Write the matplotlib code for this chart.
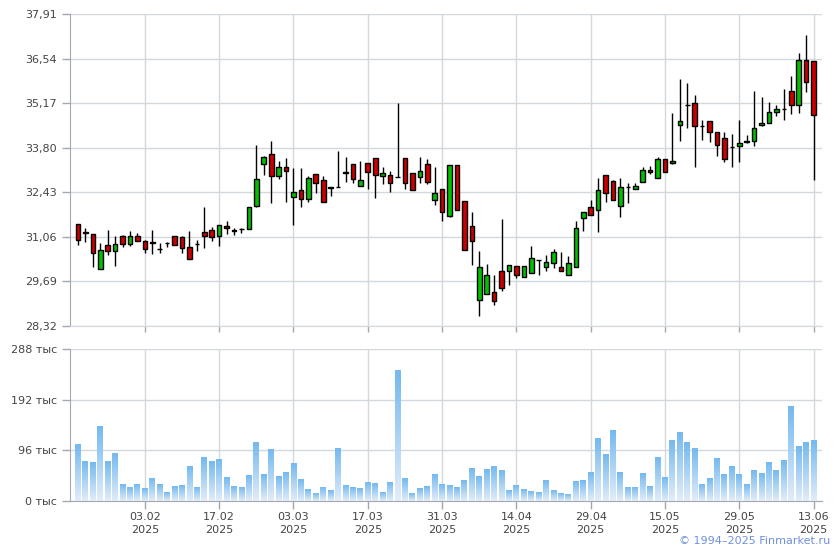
import numpy as np
import matplotlib
matplotlib.use("Agg")
import matplotlib.pyplot as plt
from matplotlib.colors import LinearSegmentedColormap

# daily candles (index = trading day), prices in RUB
opens = [31.44, 31.22, 31.15, 30.08, 30.82, 30.62, 31.09, 30.85, 31.09, 30.92,
         30.89, 30.69, 30.88, 31.09, 31.06, 30.75, 30.85, 31.21, 31.27, 31.08,
         31.40, 31.27, 31.30, 31.29, 32.00, 33.29, 33.60, 32.92, 33.20, 32.30,
         32.50, 32.22, 32.99, 32.80, 32.58, 32.60, 33.05, 33.29, 32.62, 33.32,
         33.48, 32.92, 32.97, 32.90, 33.48, 33.01, 32.90, 33.29, 32.19, 32.53,
         31.70, 33.27, 32.17, 31.40, 29.12, 29.31, 29.35, 30.02, 30.00, 30.17,
         29.83, 29.95, 30.36, 30.14, 30.26, 30.14, 29.89, 30.14, 31.64, 31.98,
         31.89, 32.97, 32.78, 32.01, 32.60, 32.54, 32.75, 33.12, 32.87, 33.46,
         33.34, 34.50, 35.12, 35.18, 34.47, 34.63, 34.29, 34.10, 33.83, 33.86,
         34.00, 34.01, 34.49, 34.56, 34.90, 35.00, 35.53, 35.12, 36.50, 36.47]
highs = [31.47, 31.34, 31.16, 30.88, 31.27, 31.09, 31.13, 31.24, 31.18, 30.95,
         31.27, 30.87, 30.90, 31.09, 31.09, 31.24, 30.95, 31.98, 31.37, 31.43,
         31.54, 31.34, 31.34, 31.98, 33.89, 33.55, 34.00, 33.40, 33.48, 33.17,
         33.17, 32.94, 32.99, 32.94, 32.58, 33.70, 33.52, 33.29, 33.40, 33.32,
         33.48, 33.20, 33.07, 35.16, 33.48, 33.01, 33.50, 33.45, 33.20, 32.53,
         33.27, 33.27, 32.17, 31.81, 30.64, 30.23, 29.89, 31.62, 30.21, 30.17,
         30.17, 30.78, 30.36, 30.50, 30.69, 30.60, 30.48, 31.55, 31.83, 32.19,
         32.87, 32.97, 32.81, 32.87, 32.72, 32.72, 33.21, 33.24, 33.50, 33.46,
         34.87, 35.90, 35.80, 35.41, 34.66, 34.63, 34.29, 34.29, 34.23, 34.66,
         34.20, 35.53, 35.37, 35.21, 35.12, 35.61, 36.01, 36.72, 37.25, 36.47]
lows = [30.80, 30.90, 30.13, 30.07, 30.50, 30.16, 30.74, 30.77, 30.93, 30.55,
        30.53, 30.57, 30.75, 30.81, 30.56, 30.38, 30.62, 30.71, 30.93, 30.77,
        31.15, 31.12, 31.17, 31.29, 31.99, 32.97, 32.09, 32.85, 32.12, 31.42,
        31.99, 32.12, 32.40, 32.13, 32.31, 32.60, 32.74, 32.73, 32.62, 32.52,
        32.25, 32.68, 32.44, 32.90, 32.53, 32.50, 32.73, 32.68, 32.05, 31.54,
        31.68, 31.89, 30.66, 30.20, 28.62, 29.31, 28.98, 29.39, 29.59, 29.79,
        29.83, 29.95, 29.88, 30.01, 30.09, 30.01, 29.89, 30.14, 31.23, 31.73,
        31.20, 32.13, 32.20, 31.66, 32.11, 32.54, 32.75, 33.00, 32.87, 33.06,
        33.30, 34.01, 34.40, 33.21, 34.03, 33.98, 33.55, 33.37, 33.21, 33.37,
        33.95, 33.86, 34.47, 34.56, 34.78, 34.66, 34.84, 34.87, 35.52, 32.81]
closes = [30.96, 31.19, 30.56, 30.66, 30.63, 30.85, 30.85, 31.09, 30.94, 30.69,
          30.87, 30.69, 30.86, 30.82, 30.72, 30.39, 30.85, 31.09, 31.05, 31.43,
          31.33, 31.25, 31.30, 31.98, 32.83, 33.52, 32.92, 33.20, 33.07, 32.44,
          32.22, 32.87, 32.73, 32.13, 32.56, 32.60, 33.03, 32.84, 32.80, 33.04,
          32.97, 33.02, 32.73, 32.90, 32.71, 32.50, 33.09, 32.76, 32.41, 31.83,
          33.27, 31.89, 30.66, 30.93, 30.14, 29.89, 29.08, 29.49, 30.21, 29.89,
          30.17, 30.41, 30.34, 30.29, 30.60, 30.01, 30.26, 31.34, 31.83, 31.73,
          32.51, 32.41, 32.20, 32.60, 32.60, 32.63, 33.12, 33.06, 33.46, 33.06,
          33.40, 34.63, 35.12, 34.47, 34.47, 34.29, 33.89, 33.46, 33.83, 33.93,
          33.98, 34.41, 34.56, 34.90, 35.00, 35.00, 35.12, 36.50, 35.83, 34.81]
# volume, thousands
volumes = [107, 75, 73, 141, 75, 90, 31, 25, 31, 23,
           42, 31, 16, 27, 29, 65, 25, 82, 75, 79,
           44, 27, 25, 48, 111, 50, 98, 46, 54, 71,
           41, 22, 14, 25, 20, 100, 29, 25, 23, 35,
           33, 16, 35, 248, 42, 14, 23, 27, 50, 31,
           29, 25, 39, 61, 46, 60, 65, 58, 20, 29,
           22, 18, 16, 39, 20, 14, 12, 37, 39, 54,
           119, 88, 134, 54, 25, 25, 52, 27, 82, 44,
           115, 130, 111, 100, 31, 42, 81, 50, 65, 50,
           31, 58, 52, 73, 58, 77, 180, 103, 111, 115]

tick_days = [9, 19, 29, 39, 49, 59, 69, 79, 89, 99]
tick_labels = ["03.02", "17.02", "03.03", "17.03", "31.03",
               "14.04", "29.04", "15.05", "29.05", "13.06"]
price_ticks = [28.32, 29.69, 31.06, 32.43, 33.80, 35.17, 36.54, 37.91]
vol_ticks = [0, 96, 192, 288]

grid_c = "#d3d8dd"
axis_c = "#a4a8b4"
text_c = "#444444"

fig = plt.figure(figsize=(8.4, 5.5), dpi=100)
ax = fig.add_axes([70 / 840, 1 - 326 / 550, 752 / 840, 312 / 550])
axv = fig.add_axes([70 / 840, 1 - 501 / 550, 752 / 840, 152 / 550])

x = np.arange(len(opens))
o = np.array(opens); h = np.array(highs); l = np.array(lows); c = np.array(closes)
up = c >= o
colors = np.where(up, "#00c000", "#cc0000")

ax.vlines(x, l, h, color="black", linewidth=1, zorder=2)
ax.bar(x, np.abs(c - o), bottom=np.minimum(o, c), width=0.62,
       color=colors, edgecolor="black", linewidth=1, zorder=3)

# volume bars with vertical gradient
cmap = LinearSegmentedColormap.from_list("vol", ["#e2edf9", "#74b9ef"])
grad = np.linspace(0, 1, 128).reshape(-1, 1)
for xi, v in zip(x, volumes):
    axv.imshow(grad, extent=[xi - 0.4, xi + 0.4, 0, v], origin="lower",
               aspect="auto", cmap=cmap, zorder=2, interpolation="bilinear")

xlim = (-1.08, 100.13)
for a in (ax, axv):
    a.set_xlim(*xlim)
    a.set_xticks(tick_days)
    a.grid(True, color=grid_c, linewidth=1, zorder=0)
    a.set_axisbelow(True)
    for s in ("top", "right"):
        a.spines[s].set_visible(False)
    a.spines["left"].set_color(axis_c)
    a.tick_params(colors=axis_c, labelcolor=text_c, labelsize=8, length=6, width=1)

ax.set_ylim(price_ticks[0], price_ticks[-1])
ax.set_yticks(price_ticks)
ax.set_yticklabels([f"{t:.2f}".replace(".", ",") for t in price_ticks])
ax.spines["bottom"].set_color(grid_c)
ax.tick_params(axis="x", labelbottom=False, length=4)

axv.set_ylim(0, 288)
axv.set_yticks(vol_ticks)
axv.set_yticklabels([f"{t} тыс" for t in vol_ticks])
axv.spines["bottom"].set_color(axis_c)
axv.set_xticklabels([f"{t}\n2025" for t in tick_labels], linespacing=1.3)
axv.tick_params(axis="x", length=6, pad=2)

fig.text(830 / 840, 1 - 541 / 550, "© 1994–2025 Finmarket.ru", color="#6f8fe0",
         fontsize=8, ha="right", va="center")

fig.savefig("out.png", dpi=100)
